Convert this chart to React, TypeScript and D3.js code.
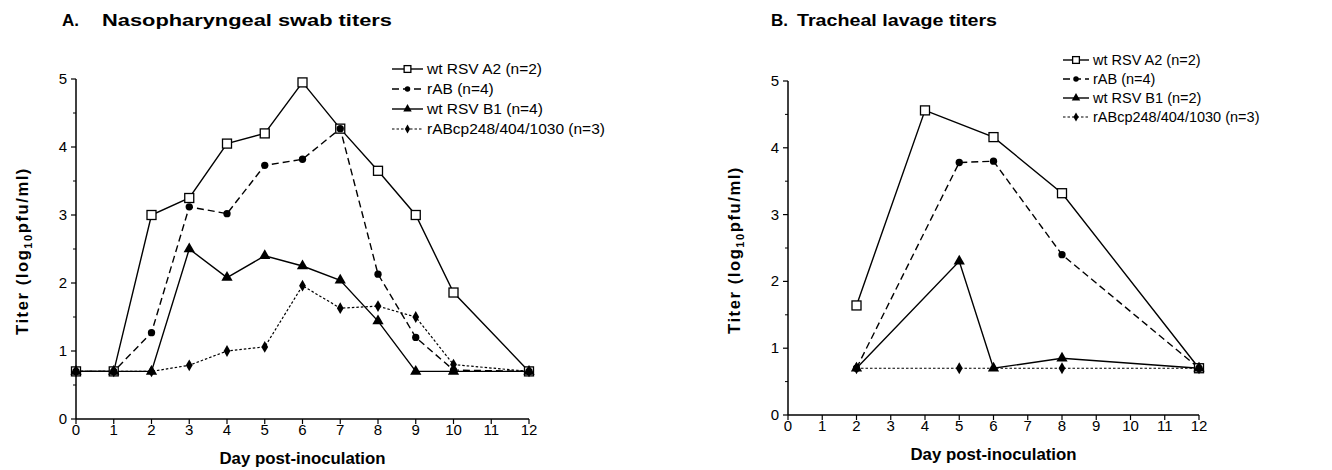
import React from "react";
import * as d3 from "d3";

// Panel A: nasopharyngeal swab titers (log10 pfu/ml)
const npDays = [0, 1, 2, 3, 4, 5, 6, 7, 8, 9, 10, 12];
const npA2 = [0.7, 0.7, 3.0, 3.25, 4.05, 4.2, 4.95, 4.27, 3.65, 3.0, 1.86, 0.7];
const npRAB = [0.7, 0.7, 1.27, 3.12, 3.02, 3.73, 3.82, 4.27, 2.13, 1.2, 0.72, 0.7];
const npB1 = [0.7, 0.7, 0.7, 2.5, 2.08, 2.4, 2.25, 2.04, 1.44, 0.7, 0.7, 0.7];
const npCp = [0.7, 0.7, 0.7, 0.79, 1.0, 1.06, 1.96, 1.63, 1.66, 1.5, 0.8, 0.7];

// Panel B: tracheal lavage titers
const trA2Days = [2, 4, 6, 8, 12];
const trA2 = [1.64, 4.56, 4.16, 3.32, 0.7];
const trRABDays = [2, 5, 6, 8, 12];
const trRAB = [0.7, 3.78, 3.8, 2.4, 0.7];
const trB1Days = [2, 5, 6, 8, 12];
const trB1 = [0.7, 2.3, 0.7, 0.85, 0.7];
const trCpDays = [2, 5, 8, 12];
const trCp = [0.7, 0.7, 0.7, 0.7];

const legendA = ["wt RSV A2 (n=2)", "rAB (n=4)", "wt RSV B1 (n=4)", "rABcp248/404/1030 (n=3)"];
const legendB = ["wt RSV A2 (n=2)", "rAB (n=4)", "wt RSV B1 (n=2)", "rABcp248/404/1030 (n=3)"];

const xTicks = d3.range(0, 13);
const yTicks = [0, 1, 2, 3, 4, 5];
const yMinor = [0.5, 1.5, 2.5, 3.5, 4.5];

const FONT = "'Liberation Sans', Arial, Helvetica, sans-serif";

// style per series: marker, dash
const styles = [
  { shape: "square", dash: null, width: 1.4 },
  { shape: "circle", dash: "7,4", width: 1.4 },
  { shape: "triangle", dash: null, width: 1.4 },
  { shape: "diamond", dash: "2.5,2", width: 1.2 },
];

function Marker({ shape, x, y, s = 1 }) {
  if (shape === "square") {
    const h = 4.5 * s;
    return <rect x={x - h} y={y - h} width={2 * h} height={2 * h} fill="#fff" stroke="#000" strokeWidth={1.3} />;
  }
  const type =
    shape === "circle" ? d3.symbolCircle : shape === "triangle" ? d3.symbolTriangle : d3.symbolDiamond;
  const size = shape === "circle" ? 42 : shape === "triangle" ? 55 : 40;
  const path = d3.symbol().type(type).size(size * s * s)();
  return <path d={path} transform={`translate(${x},${y})`} fill="#000" />;
}

function Panel(props) {
  const { title, x0, x1, yBottom, yTop, series, legend, yLabelX } = props;
  const x = d3.scaleLinear().domain([0, 12]).range([x0, x1]);
  const y = d3.scaleLinear().domain([0, 5]).range([yBottom, yTop]);
  const line = d3
    .line()
    .x((d) => x(d[0]))
    .y((d) => y(d[1]));

  return (
    <g>
      <text x={title.x} y={26} fontFamily={FONT} fontWeight="bold" fontSize={17}>
        {title.label}
      </text>
      <text
        x={title.x2}
        y={26}
        fontFamily={FONT}
        fontWeight="bold"
        fontSize={17}
        textLength={title.len}
        lengthAdjust="spacingAndGlyphs"
      >
        {title.text}
      </text>

      {/* axes */}
      <line x1={x0} x2={x1} y1={yBottom} y2={yBottom} stroke="#000" strokeWidth={1.5} />
      <line x1={x0} x2={x0} y1={yBottom} y2={yTop} stroke="#000" strokeWidth={1.5} />
      {xTicks.map((t) => (
        <g key={"x" + t}>
          <line x1={x(t)} x2={x(t)} y1={yBottom} y2={yBottom + 5} stroke="#000" strokeWidth={1.2} />
          <text x={x(t)} y={yBottom + 15.5} textAnchor="middle" fontFamily={FONT} fontSize={15}>
            {t}
          </text>
        </g>
      ))}
      {yTicks.map((t) => (
        <g key={"y" + t}>
          <line x1={x0 - 5} x2={x0} y1={y(t)} y2={y(t)} stroke="#000" strokeWidth={1.2} />
          <text x={x0 - 9} y={y(t) + 5} textAnchor="end" fontFamily={FONT} fontSize={15}>
            {t}
          </text>
        </g>
      ))}
      {yMinor.map((t) => (
        <line key={"m" + t} x1={x0 - 3} x2={x0} y1={y(t)} y2={y(t)} stroke="#000" strokeWidth={1} />
      ))}

      <text
        x={(x0 + x1) / 2}
        y={yBottom + 45}
        textAnchor="middle"
        fontFamily={FONT}
        fontWeight="bold"
        fontSize={16}
        textLength={166}
        lengthAdjust="spacingAndGlyphs"
      >
        Day post-inoculation
      </text>
      <text
        transform={`translate(${yLabelX},${(yBottom + yTop) / 2 + 2}) rotate(-90)`}
        textAnchor="middle"
        fontFamily={FONT}
        fontWeight="bold"
        fontSize={16.5}
        letterSpacing={1.6}
      >
        Titer (log
        <tspan fontSize={11} dy={4}>
          10
        </tspan>
        <tspan dy={-4}>pfu/ml)</tspan>
      </text>

      {/* lines */}
      {series.map((s, i) => (
        <path
          key={"l" + i}
          d={line(s.days.map((d, j) => [d, s.values[j]]))}
          fill="none"
          stroke="#000"
          strokeWidth={styles[i].width}
          strokeDasharray={styles[i].dash || undefined}
        />
      ))}
      {/* markers: open squares first so the filled ones sit on top */}
      {series.map((s, i) =>
        s.days.map((d, j) => (
          <Marker key={"p" + i + "-" + j} shape={styles[i].shape} x={x(d)} y={y(s.values[j])} />
        ))
      )}

      {/* legend */}
      {legend.items.map((label, i) => {
        const ly = legend.y + i * legend.step;
        return (
          <g key={"g" + i}>
            <line
              x1={legend.x}
              x2={legend.x + legend.w}
              y1={ly}
              y2={ly}
              stroke="#000"
              strokeWidth={styles[i].width}
              strokeDasharray={styles[i].dash || undefined}
            />
            <Marker shape={styles[i].shape} x={legend.x + legend.w / 2} y={ly} s={0.75} />
            <text x={legend.x + legend.w + 4} y={ly + 5} fontFamily={FONT} fontSize={legend.font}>
              {label}
            </text>
          </g>
        );
      })}
    </g>
  );
}

export default function App() {
  const seriesA = [
    { days: npDays, values: npA2 },
    { days: npDays, values: npRAB },
    { days: npDays, values: npB1 },
    { days: npDays, values: npCp },
  ];
  const seriesB = [
    { days: trA2Days, values: trA2 },
    { days: trRABDays, values: trRAB },
    { days: trB1Days, values: trB1 },
    { days: trCpDays, values: trCp },
  ];

  return (
    <svg
      width={1332}
      height={470}
      style={{ position: "absolute", left: 0, top: 0, background: "#fff" }}
    >
      <rect width={1332} height={470} fill="#fff" />
      <Panel
        title={{ x: 62, label: "A.", x2: 102, len: 290, text: "Nasopharyngeal swab titers" }}
        x0={76}
        x1={529}
        yBottom={419}
        yTop={79}
        series={seriesA}
        legend={{ items: legendA, x: 392, y: 69, step: 20, w: 31, font: 15.5 }}
        yLabelX={28}
      />
      <Panel
        title={{ x: 771, label: "B.", x2: 797, len: 200, text: "Tracheal lavage titers" }}
        x0={788}
        x1={1199}
        yBottom={415}
        yTop={81}
        series={seriesB}
        legend={{ items: legendB, x: 1063, y: 60, step: 19, w: 26, font: 14.5 }}
        yLabelX={740}
      />
    </svg>
  );
}
